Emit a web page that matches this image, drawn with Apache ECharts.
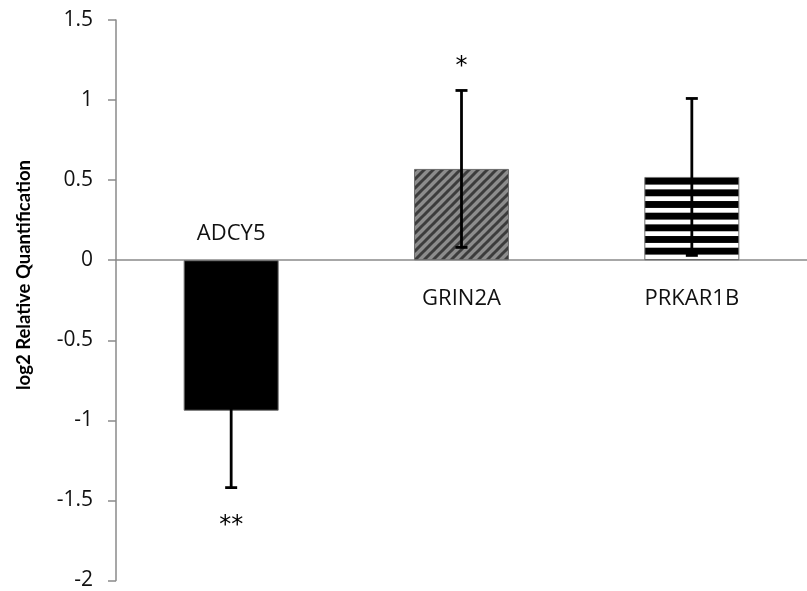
<!DOCTYPE html>
<html>
<head>
<meta charset="utf-8">
<script src="https://cdn.jsdelivr.net/npm/echarts@6/dist/echarts.min.js"></script>
<style>html,body{margin:0;padding:0;background:#fff}#c{width:807px;height:591px}</style>
</head>
<body>
<div id="c"></div>
<script>
var categories = ['ADCY5', 'GRIN2A', 'PRKAR1B'];
var means = [-0.94, 0.57, 0.52];
var errors = [0.48, 0.49, 0.49];
var significance = ['**', '*', ''];
var yTicks = [-2, -1.5, -1, -0.5, 0, 0.5, 1, 1.5];
var yTitle = 'log2 Relative Quantification';

function diagPattern() {
  var s = 9, c = document.createElement('canvas');
  c.width = s; c.height = s;
  var g = c.getContext('2d');
  g.fillStyle = '#8c8c8c'; g.fillRect(0, 0, s, s);
  g.strokeStyle = '#3c3c3c'; g.lineWidth = 3;
  for (var k = -1; k <= 1; k++) {
    g.beginPath(); g.moveTo(k * s - 1, s + 1); g.lineTo(k * s + s + 1, -1); g.stroke();
  }
  return c;
}
function stripePattern() {
  var h = 35, c = document.createElement('canvas');
  c.width = 4; c.height = h;
  var g = c.getContext('2d');
  g.fillStyle = '#ffffff'; g.fillRect(0, 0, 4, h);
  var p = h / 3, off = 2.7;
  g.fillStyle = '#000000';
  for (var k = -1; k < 4; k++) {
    g.fillRect(0, off + k * p, 4, 6.9);
  }
  return c;
}

var fills = ['#000000',
  { image: diagPattern(), repeat: 'repeat' },
  { image: stripePattern(), repeat: 'repeat' }];

var chart = echarts.init(document.getElementById('c'), null, { renderer: 'canvas' });

var barData = means.map(function (v, i) {
  return { value: v, itemStyle: { color: fills[i], borderColor: '#6e6e6e', borderWidth: 1 } };
});
var errData = means.map(function (v, i) {
  return [i, v - errors[i], v + errors[i]];
});
var txtData = means.map(function (v, i) {
  return [i, v, errors[i]];
});

chart.setOption({
  animation: false,
  grid: { left: 116, top: 20, width: 705, height: 562, containLabel: false },
  graphic: [{
    type: 'text',
    x: 24, y: 275,
    rotation: Math.PI / 2,
    style: {
      text: yTitle, align: 'center', verticalAlign: 'middle',
      fontFamily: 'Lato', fontWeight: 'bold', fontSize: 18.5, fill: '#000'
    }
  }],
  xAxis: {
    type: 'category',
    data: categories,
    axisLine: { onZero: true, lineStyle: { color: '#8a8a8a', width: 1.5 } },
    axisTick: { show: false },
    axisLabel: { show: false },
    splitLine: { show: false }
  },
  yAxis: {
    type: 'value',
    min: -2, max: 1.5, interval: 0.5,
    axisLine: { show: true, lineStyle: { color: '#8a8a8a', width: 1.5 } },
    axisTick: { show: true, inside: false, length: 8, lineStyle: { color: '#8a8a8a', width: 1.5 } },
    axisLabel: {
      margin: 23, fontFamily: 'Open Sans', fontSize: 21, color: '#111',
      formatter: function (v) { return yTicks.indexOf(v) >= 0 ? String(v) : ''; }
    },
    splitLine: { show: false }
  },
  series: [
    {
      type: 'bar',
      data: barData,
      barWidth: 95,
      z: 2
    },
    {
      type: 'custom',
      z: 5,
      data: errData,
      renderItem: function (params, api) {
        var x = api.coord([api.value(0), api.value(1)])[0];
        var yl = api.coord([api.value(0), api.value(1)])[1];
        var yh = api.coord([api.value(0), api.value(2)])[1];
        var st = { stroke: '#000', lineWidth: 2.8 };
        var cw = 6;
        return {
          type: 'group',
          children: [
            { type: 'line', shape: { x1: x, y1: yl, x2: x, y2: yh }, style: st },
            { type: 'line', shape: { x1: x - cw, y1: yl, x2: x + cw, y2: yl }, style: st },
            { type: 'line', shape: { x1: x - cw, y1: yh, x2: x + cw, y2: yh }, style: st }
          ]
        };
      }
    },
    {
      type: 'custom',
      z: 6,
      data: txtData,
      renderItem: function (params, api) {
        var i = api.value(0), m = api.value(1), e = api.value(2);
        var base = api.coord([i, 0]);
        var neg = m < 0;
        var children = [{
          type: 'text',
          style: {
            text: categories[i], x: base[0], y: base[1] + (neg ? -26 : 39),
            align: 'center', verticalAlign: 'middle',
            fontFamily: 'Open Sans', fontSize: 22, fill: '#111'
          }
        }];
        if (significance[i]) {
          var tip = api.coord([i, neg ? m - e : m + e]);
          children.push({
            type: 'text',
            style: {
              text: significance[i], x: tip[0], y: tip[1] + (neg ? 38 : -24),
              align: 'center', verticalAlign: 'middle',
              fontFamily: 'DejaVu Sans', fontSize: 24, fill: '#000'
            }
          });
        }
        return { type: 'group', children: children };
      }
    }
  ]
});
</script>
</body>
</html>
